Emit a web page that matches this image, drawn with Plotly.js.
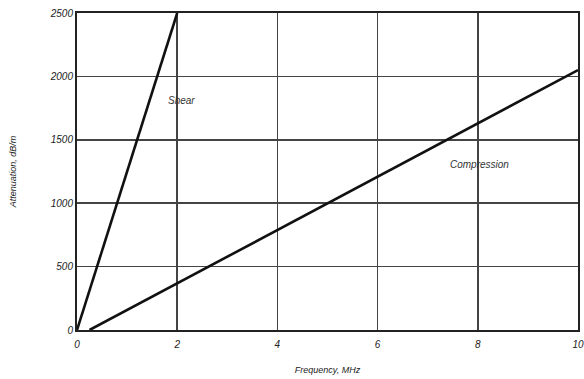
<!DOCTYPE html>
<html><head><meta charset="utf-8">
<script src="https://cdn.plot.ly/plotly-3.0.1.min.js"></script>
<style>html,body{margin:0;padding:0;background:#fff;}#c{width:584px;height:379px;}</style>
</head><body><div id="c"></div>
<script>
var shearX = [0, 2];
var shearY = [0, 2500];
var compX = [0.25, 10];
var compY = [0, 2050];
var xTicks = [0, 2, 4, 6, 8, 10];
var yTicks = [0, 500, 1000, 1500, 2000, 2500];
var labelText = ["Shear", "Compression"];
var labelX = [1.78, 7.4];
var labelY = [1810, 1305];

var font = {family: "Liberation Sans, Arial, sans-serif", size: 10, color: "#222"};
var traces = [
  {x: shearX, y: shearY, mode: "lines", line: {color: "#111", width: 2.6}, showlegend: false, hoverinfo: "skip"},
  {x: compX, y: compY, mode: "lines", line: {color: "#111", width: 2.6}, showlegend: false, hoverinfo: "skip"}
];
var annotations = labelText.map(function(t, i){
  return {x: labelX[i], y: labelY[i], xref: "x", yref: "y", text: "<i>" + t + "</i>", showarrow: false, xanchor: "left", yanchor: "middle", font: {family: font.family, size: 10, color: "#333"}};
});
var axisCommon = {
  showgrid: true, gridcolor: "#444", gridwidth: 1.5,
  showline: true, linecolor: "#222", linewidth: 2, mirror: true,
  zeroline: false, ticks: "", tickfont: {family: font.family, size: 10, color: "#222"}
};
var layout = {
  width: 584, height: 379,
  margin: {l: 77, r: 6, t: 13, b: 49},
  paper_bgcolor: "#fff", plot_bgcolor: "#fff",
  xaxis: Object.assign({}, axisCommon, {range: [0, 10], tickvals: xTicks, ticktext: xTicks.map(function(v){return "<i>"+v+"</i>";}), ticklabelstandoff: 4,
    title: {text: "<i>Frequency, MHz</i>", font: {family: font.family, size: 9, color: "#222"}, standoff: 18}}),
  yaxis: Object.assign({}, axisCommon, {range: [0, 2500], tickvals: yTicks, ticktext: yTicks.map(function(v){return "<i>"+v+"</i>";}),
    title: {text: "<i>Attenuation, dB/m</i>", font: {family: font.family, size: 9, color: "#222"}, standoff: 32}}),
  annotations: annotations
};
Plotly.newPlot("c", traces, layout, {staticPlot: true, displayModeBar: false});
</script></body></html>
